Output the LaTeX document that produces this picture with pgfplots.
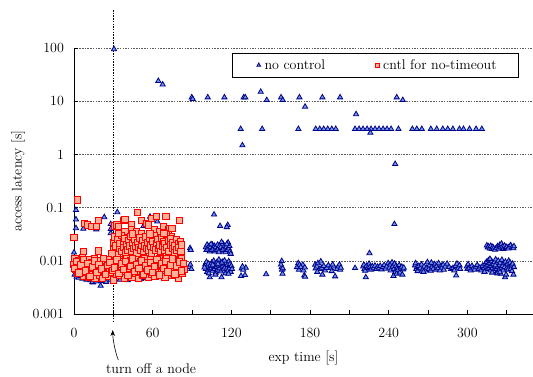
\documentclass[border=0pt]{standalone}
\usepackage{fontspec}
\usepackage{pgfplots}
\pgfplotsset{compat=1.18}
\usetikzlibrary{arrows.meta}
\definecolor{ncedge}{RGB}{0,0,140}
\definecolor{ncfill}{RGB}{110,150,230}
\definecolor{ctedge}{RGB}{255,0,0}
\definecolor{ctfill}{RGB}{255,175,150}
\definecolor{gridc}{RGB}{90,90,90}
\newcommand\fs{\fontsize{14}{17}\selectfont}
\pgfplotsset{myleg/.style={legend image code/.code={\draw[##1, mark size=2.2pt] plot coordinates {(0pt,0pt)}; \path (-7pt,0pt) (2.5pt,0pt);}}}
\begin{document}
\begin{tikzpicture}
\path[use as bounding box] (-74pt,-62pt) rectangle (459pt,314pt);
\begin{axis}[
 at={(0pt,0pt)}, anchor=south west,
 scale only axis, width=459pt, height=266pt,
 ymode=log, xmin=0, xmax=350, ymin=0.001, ymax=100,
 axis x line*=bottom, axis y line*=left,
 axis line style={-, line width=0.9pt, black},
 tick align=inside, major tick length=4pt, minor tick length=4pt,
 tick style={black, line width=0.6pt},
 xtick={0,60,...,300}, minor xtick={30,90,...,330},
 ytick={0.001,0.01,0.1,1,10,100}, yticklabels={0.001,0.01,0.1,1,10,100},
 yminorticks=false,
 /pgf/number format/assume math mode=true,
 ymajorgrids, major grid style={gridc, line width=0.5pt, dash pattern=on 1.5pt off 1.2pt},
 tick label style={font=\fs},
 xticklabel style={yshift=-11pt},
 yticklabel style={xshift=-6.5pt},
 xlabel={exp time [s]}, ylabel={access latency [s]},
 every axis x label/.style={font=\fs, at={(axis description cs:0.5,0)}, anchor=center, yshift=-43.5pt},
 every axis y label/.style={font=\fs, at={(axis description cs:-0.122,0.5)}, anchor=center, rotate=90},
 legend style={font=\fs, at={(0.9695,0.981)}, anchor=north east, legend columns=2,
   draw=black, line width=0.9pt, inner xsep=19pt, inner ysep=3.2pt,
   nodes={inner sep=2.85pt},
   /tikz/every even column/.append style={column sep=42pt}},
 clip=false,
]
\addplot[only marks, mark=triangle*, mark size=3pt, mark options={draw=ncedge, fill=ncfill, line width=0.8pt}, myleg]
table {
30.5 95
64.3 24
67.6 20.6
89.8 11.8
90.5 11.0
102 11.8
114.7 11.8
129.4 11.8
130.6 11.8
127.1 3.0
128.4 1.48
142.4 15
147 10.5
143.5 3.0
157.9 11.8
159.2 10.5
171.9 11.8
176.2 7.9
171.1 3.0
189.4 11.8
202.9 11.8
184.3 3.0
187.4 3.0
190.4 3.0
193.5 3.0
196.6 3.0
199.6 3.0
215.1 5.7
214.3 3.0
217.4 3.0
220.4 3.0
223.5 3.0
226.5 3.0
229.6 3.0
232.6 3.0
235.7 3.0
238.7 3.0
241.8 3.0
247.4 3.0
226 2.55
246.1 11.8
250.7 10.5
244.9 0.66
258 3.0
261.4 3.0
265.2 3.0
272.1 3.0
276.6 3.0
281.2 3.0
285 3.0
288.9 3.0
293.9 3.0
297 3.0
301.6 3.0
306.6 3.0
311 3.0
244.3 0.049
225.3 0.0139
106.8 0.074
111.4 0.045
117.2 0.047
116.5 0.043
1.5 0.090
1.5 0.060
1.5 0.041
0 0.0143
23.1 0.066
7.1 0.040
17 0.039
28 0.049
28 0.0395
28 0.033
33 0.082
53 0.045
58 0.0675
63.5 0.055
20.3 0.0034
14.5 0.0039
0.5 0.0055
2 0.0050
3.5 0.0048
5 0.0052
6.5 0.0046
8 0.0049
9.5 0.0044
11 0.0047
12.5 0.0043
14 0.0040
15.5 0.0045
17 0.0041
18.5 0.0046
21.5 0.0042
23 0.0044
24.5 0.0040
26 0.0047
27.5 0.0043
29 0.0048
31 0.0050
33 0.0046
35 0.0044
37 0.0049
39 0.0045
41 0.0043
43 0.0047
45 0.0050
47 0.0046
49 0.0048
51 0.0045
53 0.0049
55 0.0047
57 0.0051
59 0.0048
61 0.0050
63 0.0052
65 0.0049
67 0.0053
69 0.0051
71 0.0054
73 0.0050
75 0.0053
77 0.0055
79 0.0052
81 0.0056
83 0.0054
45 0.022
52 0.019
60 0.024
66 0.021
72 0.018
78 0.023
40 0.030
56 0.028
88.5 0.0173
89 0.0160
88 0.0076
89.5 0.0070
88.7 0.0085
100.5 0.018
101 0.016
101.5 0.020
102 0.017
103 0.019
103.5 0.015
104 0.018
105 0.016
105.5 0.020
106 0.017
107 0.019
107.5 0.015
108 0.018
109 0.016
109.5 0.020
110 0.017
111 0.019
111.5 0.0155
112 0.018
113 0.016
113.5 0.021
114 0.017
115 0.019
115.5 0.0145
116 0.018
117 0.016
117.5 0.022
118 0.017
118.5 0.019
119 0.015
119.5 0.0135
104.5 0.0205
110.5 0.0145
116.5 0.0205
112.5 0.0225
100 0.0085
100.5 0.0070
101 0.0095
101.5 0.0062
102 0.0078
102.5 0.0088
103 0.0068
103.5 0.0049
104 0.0082
104.5 0.0072
105 0.0092
105.5 0.0065
106 0.0080
106.5 0.0100
107 0.0070
107.5 0.0086
108 0.0060
108.5 0.0076
109 0.0094
109.5 0.0068
110 0.0082
110.5 0.0105
111 0.0072
111.5 0.0088
112 0.0063
112.5 0.0049
113 0.0079
113.5 0.0096
114 0.0069
114.5 0.0085
115 0.0075
115.5 0.0058
116 0.0090
116.5 0.0071
117 0.0083
117.5 0.0066
118 0.0098
118.5 0.0074
119 0.0087
119.5 0.0062
120 0.0080
120.5 0.0070
99.5 0.0075
102.8 0.0058
107.8 0.0055
112.8 0.0093
117.8 0.0057
105.8 0.0084
109.8 0.0088
114.8 0.0101
127.9 0.0072
131 0.0074
127.4 0.0052
130.4 0.0054
129 0.0068
128.5 0.0078
146.5 0.0056
158.4 0.0099
158.4 0.0076
158.6 0.0068
159 0.0057
157.8 0.0085
159.2 0.0072
170 0.0076
171 0.0090
171.5 0.0068
172 0.0084
174.5 0.0084
175 0.0066
175.6 0.0053
173 0.0076
176.2 0.0050
176 0.0075
183.8 0.0084
184.3 0.0072
185.2 0.0078
186 0.0090
187.5 0.0070
188.2 0.0097
188.9 0.0074
189.4 0.0055
190.5 0.0080
191.5 0.0066
192.7 0.0073
194 0.0082
195.8 0.0073
196.5 0.0064
198 0.0078
199.1 0.0051
200.5 0.0070
201.6 0.0078
202.4 0.0085
202.9 0.0068
203.5 0.0074
185.5 0.0062
197.2 0.0085
214.3 0.0073
220.5 0.0078
221 0.0084
221.5 0.0070
222 0.0065
222.5 0.0049
223 0.0080
224 0.0073
225 0.0088
225.6 0.0076
226.5 0.0068
227.5 0.0079
228.5 0.0072
229.5 0.0081
230.5 0.0070
231.5 0.0077
232.5 0.0074
233.5 0.0080
234.5 0.0069
235.5 0.0076
236.5 0.0083
237.5 0.0071
238.5 0.0078
239.5 0.0090
240.5 0.0074
241 0.0085
241.5 0.0066
242.5 0.0093
243 0.0078
243.6 0.0052
244 0.0070
244.5 0.0088
245 0.0062
245.5 0.0080
246 0.0057
246.5 0.0075
247 0.0068
248 0.0083
248.5 0.0060
249 0.0072
250 0.0077
250.4 0.0055
251 0.0069
251.5 0.0074
260 0.0082
260.5 0.0090
261 0.0070
261.5 0.0076
262 0.0064
263 0.0080
264 0.0072
265 0.0085
266 0.0068
267 0.0078
268 0.0066
269 0.0074
269.5 0.0094
270.5 0.0070
271 0.0082
272 0.0065
273 0.0077
274 0.0071
275 0.0086
276 0.0068
276.5 0.0079
277.5 0.0072
278 0.0090
279 0.0066
280 0.0080
280.5 0.0074
281.5 0.0084
282 0.0068
283 0.0078
284.5 0.0088
286 0.0076
287.5 0.0070
289 0.0073
290 0.0066
291 0.0080
291.4 0.0053
292 0.0088
293 0.0074
294 0.0082
294.5 0.0070
266.5 0.0062
272.5 0.0092
299.5 0.0078
300 0.0070
300.5 0.0086
301.5 0.0074
302.5 0.0066
303.5 0.0080
304.5 0.0072
305.5 0.0068
306.5 0.0077
307.5 0.0083
308.5 0.0070
309.5 0.0075
310.5 0.0066
311.5 0.0080
312.5 0.0072
313.5 0.0088
314 0.0078
314.5 0.0095
315 0.0070
315.5 0.0084
316 0.0102
316.5 0.0074
317 0.0090
317.5 0.0066
318 0.0080
318.5 0.0098
319 0.0072
319.5 0.0086
320 0.0064
320.5 0.0094
321 0.0078
321.5 0.0106
322 0.0070
322.5 0.0088
323 0.0076
323.5 0.0100
324 0.0068
324.5 0.0084
325 0.0092
325.4 0.0057
325.8 0.0074
326.3 0.0104
326.8 0.0080
327.3 0.0066
327.8 0.0090
328.3 0.0076
328.7 0.0049
329 0.0096
329.5 0.0055
330 0.0072
330.5 0.0086
331 0.0068
331.5 0.0100
332 0.0078
332.5 0.0092
333 0.0070
333.5 0.0082
334 0.0064
334.5 0.0088
335.1 0.0055
335.5 0.0076
313 0.0062
318.8 0.0060
322.8 0.0058
317.2 0.0108
321.2 0.0082
324.8 0.0061
314.8 0.0194
315.5 0.0178
316.2 0.0186
317 0.0170
317.8 0.0190
318.5 0.0166
319.3 0.0182
320 0.0172
321 0.0162
322 0.0176
323 0.0188
323.8 0.0168
324.6 0.0198
325.4 0.0178
326 0.0210
326.8 0.0184
327.5 0.0166
328.4 0.0192
329.2 0.0174
330 0.0182
331 0.0170
332 0.0186
333 0.0196
334 0.0178
335 0.0172
335.5 0.0188
};
\addlegendentry{no control}
\addplot[only marks, mark=square*, mark size=3.2pt, mark options={draw=ctedge, fill=ctfill, line width=0.9pt}, myleg]
table {
2.5 0.139
0 0.0274
7.1 0.0149
18.5 0.0152
8.1 0.051
10.2 0.047
13.5 0.044
17.3 0.044
18.5 0.057
31.3 0.0455
32.6 0.047
33.9 0.044
38.1 0.058
38.9 0.060
38.9 0.0355
44 0.047
44 0.038
47.8 0.0355
48.6 0.082
51.6 0.058
51.6 0.033
55.4 0.051
56.7 0.047
59.2 0.062
61.4 0.038
63 0.0675
65.6 0.0355
68.2 0.044
70 0.0675
72 0.038
73.2 0.041
74.5 0.0285
74.6 0.041
80.3 0.058
30 0.022
30.5 0.016
31 0.028
32 0.019
33 0.014
33.5 0.025
34.5 0.017
35 0.021
36 0.030
36.5 0.015
37.5 0.023
38 0.018
39 0.026
39.5 0.014
40.5 0.020
41 0.016
42 0.024
42.5 0.019
43.5 0.029
44 0.015
45 0.021
45.5 0.017
46.5 0.025
47 0.019
48 0.014
48.5 0.022
49.5 0.018
50 0.027
51 0.016
51.5 0.020
52.5 0.024
53 0.015
54 0.019
54.5 0.028
55.5 0.017
56 0.022
57 0.016
57.5 0.026
58.5 0.019
59 0.014
60 0.023
60.5 0.018
61.5 0.030
62 0.016
63 0.021
63.5 0.025
64.5 0.017
65 0.020
66 0.015
66.5 0.027
67.5 0.019
68 0.023
69 0.016
69.5 0.021
70.5 0.031
71 0.018
72 0.024
72.5 0.015
73.5 0.020
74 0.026
75 0.017
75.5 0.022
76.5 0.014
77 0.019
78 0.025
78.5 0.016
79.5 0.021
80 0.018
81 0.023
81.5 0.015
82 0.020
29 0.0135
34 0.033
44.5 0.032
58 0.032
68.5 0.033
0 0.0085
0.7 0.0110
1.4 0.0068
2.1 0.0095
2.8 0.0058
3.5 0.0102
4.2 0.0075
4.9 0.0062
5.6 0.0090
6.3 0.0115
7 0.0052
7.7 0.0080
8.4 0.0098
9.1 0.0060
9.8 0.0072
10.5 0.0105
11.2 0.0050
11.9 0.0088
12.6 0.0066
13.3 0.0094
14 0.0056
14.7 0.0078
15.4 0.0108
16.1 0.0048
16.8 0.0070
17.5 0.0092
18.2 0.0063
18.9 0.0083
19.6 0.0054
20.3 0.0100
21 0.0074
21.7 0.0046
22.4 0.0087
23.1 0.0065
23.8 0.0096
24.5 0.0058
25.2 0.0079
25.9 0.0107
26.6 0.0051
27.3 0.0069
28 0.0091
28.7 0.0062
29.4 0.0084
30.1 0.0044
30.8 0.0075
31.5 0.0099
32.2 0.0057
32.9 0.0081
33.6 0.0067
34.3 0.0104
35 0.0053
35.7 0.0089
36.4 0.0071
37.1 0.0060
37.8 0.0095
38.5 0.0048
39.2 0.0078
39.9 0.0112
40.6 0.0064
41.3 0.0086
42 0.0055
42.7 0.0073
43.4 0.0101
44.1 0.0050
44.8 0.0082
45.5 0.0068
46.2 0.0093
46.9 0.0059
47.6 0.0077
48.3 0.0106
49 0.0047
49.7 0.0088
50.4 0.0063
51.1 0.0097
51.8 0.0072
52.5 0.0054
53.2 0.0085
53.9 0.0110
54.6 0.0061
55.3 0.0076
56 0.0092
56.7 0.0049
57.4 0.0080
58.1 0.0066
58.8 0.0103
59.5 0.0057
60.2 0.0074
60.9 0.0090
61.6 0.0052
62.3 0.0083
63 0.0099
63.7 0.0064
64.4 0.0070
65.1 0.0108
65.8 0.0055
66.5 0.0087
67.2 0.0062
67.9 0.0079
68.6 0.0096
69.3 0.0050
70 0.0073
70.7 0.0112
71.4 0.0060
72.1 0.0085
72.8 0.0067
73.5 0.0094
74.2 0.0053
74.9 0.0081
75.6 0.0104
76.3 0.0058
77 0.0076
77.7 0.0091
78.4 0.0065
79.1 0.0100
79.8 0.0048
80.5 0.0084
81.2 0.0071
81.9 0.0108
82.6 0.0059
83.3 0.0089
84 0.0068
0.35 0.0072
2.05 0.0096
3.75 0.0059
5.45 0.0083
7.15 0.0105
8.85 0.0064
10.55 0.0090
12.25 0.0051
13.95 0.0077
15.65 0.0099
17.35 0.0061
19.05 0.0086
20.75 0.0070
22.45 0.0110
24.15 0.0055
25.85 0.0081
27.55 0.0094
29.25 0.0066
30.95 0.0074
32.65 0.0103
34.35 0.0058
36.05 0.0088
37.75 0.0069
39.45 0.0097
41.15 0.0053
42.85 0.0079
44.55 0.0108
46.25 0.0063
47.95 0.0085
49.65 0.0072
51.35 0.0100
53.05 0.0056
54.75 0.0082
56.45 0.0067
58.15 0.0093
59.85 0.0060
61.55 0.0078
63.25 0.0106
64.95 0.0054
66.65 0.0087
68.35 0.0071
70.05 0.0098
71.75 0.0062
73.45 0.0084
75.15 0.0109
76.85 0.0057
78.55 0.0080
80.25 0.0095
81.95 0.0065
83.65 0.0090
};
\addlegendentry{cntl for no-timeout}
\draw[black, line width=0.6pt, dash pattern=on 1.5pt off 1.2pt] ([yshift=38pt]axis cs:30,100) -- ([yshift=-9pt]axis cs:30,0.001);
\draw[-{Stealth[length=6pt,width=4.5pt]}, line width=0.6pt] ([xshift=5pt,yshift=-46pt]axis cs:30,0.001) .. controls +(-3pt,7pt) and +(0pt,-9pt) .. ([xshift=-0.6pt,yshift=-16pt]axis cs:30,0.001);
\node[font=\fs, anchor=center] at ([xshift=37.7pt,yshift=-55pt]axis cs:30,0.001) {turn off a node};
\end{axis}
\end{tikzpicture}
\end{document}
